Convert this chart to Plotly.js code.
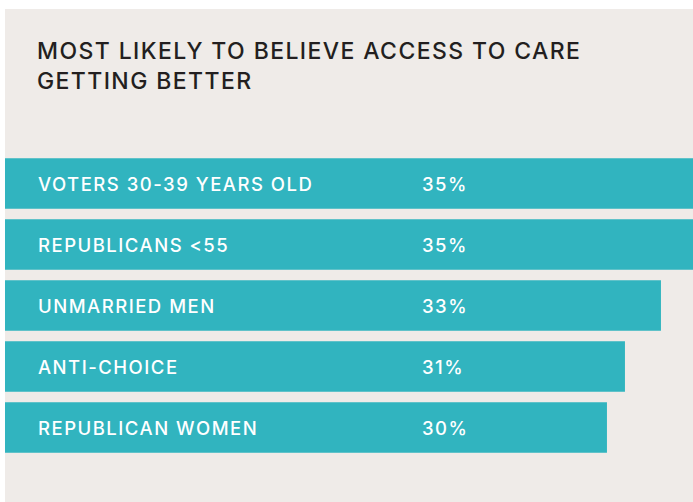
<!DOCTYPE html>
<html>
<head>
<meta charset="utf-8">
<script src="https://cdn.plot.ly/plotly-3.0.1.min.js"></script>
<style>
  html, body { margin: 0; padding: 0; background: #ffffff; }
  #chart { position: absolute; left: 5px; top: 9px; width: 688px; height: 493px; }
  .gtitle { letter-spacing: 1.4px; }
  .annotation-text { letter-spacing: 1.5px; }
</style>
</head>
<body>
<div id="chart"></div>
<script>
// Data
const categories = ["VOTERS 30-39 YEARS OLD", "REPUBLICANS <55", "UNMARRIED MEN", "ANTI-CHOICE", "REPUBLICAN WOMEN"];
const values = [35, 35, 33, 31, 30];
const valueLabels = ["35%", "35%", "33%", "31%", "30%"];

const XMIN = -3.444;
const XMAX = 34.78;
const FONT = "Inter, 'Open Sans', sans-serif";

const trace = {
  type: "bar",
  orientation: "h",
  y: categories,
  x: values.map(v => v - XMIN),
  base: XMIN,
  marker: { color: "#31b4bf", line: { width: 0 } },
  hoverinfo: "skip"
};

const annotations = [];
categories.forEach((c, i) => {
  annotations.push({
    xref: "paper", yref: "y", x: 0.045, y: c, xanchor: "left", yanchor: "middle",
    text: c, showarrow: false, font: { family: FONT, size: 18.5, color: "#ffffff", weight: 500 }
  });
  annotations.push({
    xref: "paper", yref: "y", x: 0.603, y: c, xanchor: "left", yanchor: "middle",
    text: valueLabels[i], showarrow: false, font: { family: FONT, size: 18.5, color: "#ffffff", weight: 500 }
  });
});

const layout = {
  width: 688, height: 493,
  margin: { l: 0, r: 0, t: 144, b: 44, pad: 0 },
  paper_bgcolor: "#efebe8",
  plot_bgcolor: "#efebe8",
  bargap: 0.172,
  showlegend: false,
  title: {
    text: "MOST LIKELY TO BELIEVE ACCESS TO CARE<br>GETTING BETTER",
    xref: "container", yref: "container",
    x: 32 / 688, xanchor: "left",
    y: 1 - 50 / 493, yanchor: "top",
    font: { family: FONT, size: 23, color: "#231f20", weight: 500 }
  },
  xaxis: { range: [XMIN, XMAX], visible: false, fixedrange: true },
  yaxis: { autorange: "reversed", showticklabels: false, showgrid: false, zeroline: false, fixedrange: true },
  annotations: annotations
};

Plotly.newPlot("chart", [trace], layout, { displayModeBar: false, staticPlot: true });
</script>
</body>
</html>
